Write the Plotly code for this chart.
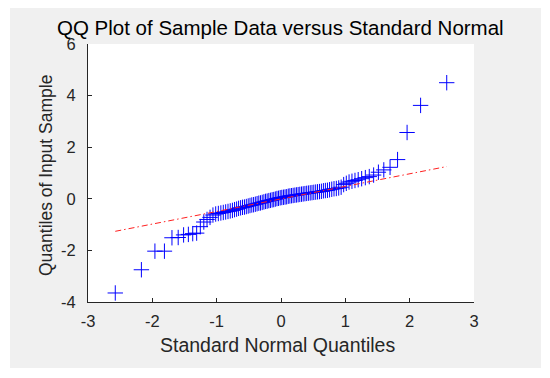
import plotly.graph_objects as go

# Theoretical standard normal quantiles (x) for 100 sample points
x_quant = [
    -2.576, -2.170, -1.960, -1.812, -1.695, -1.598, -1.514, -1.440, -1.372, -1.311,
    -1.254, -1.200, -1.150, -1.103, -1.058, -1.015, -0.974, -0.935, -0.897, -0.860,
    -0.824, -0.789, -0.755, -0.722, -0.690, -0.659, -0.628, -0.598, -0.568, -0.539,
    -0.510, -0.482, -0.454, -0.426, -0.399, -0.372, -0.345, -0.319, -0.292, -0.266,
    -0.240, -0.215, -0.189, -0.164, -0.138, -0.113, -0.088, -0.063, -0.038, -0.0125,
    0.0125, 0.038, 0.063, 0.088, 0.113, 0.138, 0.164, 0.189, 0.215, 0.240,
    0.266, 0.292, 0.319, 0.345, 0.372, 0.399, 0.426, 0.454, 0.482, 0.510,
    0.539, 0.568, 0.598, 0.628, 0.659, 0.690, 0.722, 0.755, 0.789, 0.824,
    0.860, 0.897, 0.935, 0.974, 1.015, 1.058, 1.103, 1.150, 1.200, 1.254,
    1.311, 1.372, 1.440, 1.514, 1.598, 1.695, 1.812, 1.960, 2.170, 2.576,
]

# Sorted sample values (y)
y_sample = [
    -3.65, -2.75, -2.03, -2.03, -1.51, -1.50, -1.40, -1.38, -1.35, -1.33,
    -1.08, -0.90, -0.80, -0.72, -0.63, -0.59, -0.57, -0.55, -0.53, -0.51,
    -0.49, -0.47, -0.45, -0.42, -0.40, -0.37, -0.35, -0.33, -0.32, -0.30,
    -0.28, -0.26, -0.24, -0.23, -0.21, -0.19, -0.17, -0.16, -0.14, -0.12,
    -0.10, -0.09, -0.07, -0.06, -0.04, -0.03, -0.01, 0.01, 0.02, 0.04,
    0.05, 0.06, 0.07, 0.08, 0.10, 0.11, 0.12, 0.13, 0.14, 0.15,
    0.16, 0.17, 0.18, 0.19, 0.20, 0.21, 0.22, 0.23, 0.24, 0.25,
    0.26, 0.27, 0.28, 0.29, 0.31, 0.32, 0.33, 0.35, 0.37, 0.39,
    0.40, 0.42, 0.45, 0.55, 0.60, 0.65, 0.68, 0.71, 0.74, 0.78,
    0.82, 0.86, 0.92, 1.03, 1.12, 1.22, 1.52, 2.57, 3.62, 4.50,
]

# Reference line endpoints (through the quartiles, extended to data range)
ref_x = [-2.576, 2.576]
ref_y = [-1.26, 1.25]

x_ticks = [-3, -2, -1, 0, 1, 2, 3]
y_ticks = [-4, -2, 0, 2, 4, 6]

title_text = "QQ Plot of Sample Data versus Standard Normal"
x_label = "Standard Normal Quantiles"
y_label = "Quantiles of Input Sample"

FONT = "Arial, Liberation Sans, Helvetica, sans-serif"
TXT = "#262626"

fig = go.Figure()
fig.add_trace(go.Scatter(
    x=x_quant, y=y_sample, mode="markers",
    marker=dict(symbol="cross-thin-open", size=11, color="#0000ff",
                line=dict(color="#0000ff", width=1)),
    showlegend=False, hoverinfo="x+y",
))
fig.add_trace(go.Scatter(
    x=ref_x, y=ref_y, mode="lines",
    line=dict(color="#ff2020", width=1, dash="6px,3px,1.5px,3px"),
    showlegend=False, hoverinfo="skip",
))

# The page body has an 8px default margin; the figure is sized to fit the
# 550x378 window exactly and page coordinates are converted with OFF.
OFF = 8
W, H = 550 - 2 * OFF, 378 - 2 * OFF
# plot area in page pixels: x 88..474, y 44.5..302
L, R, T, B = 88 - OFF, W - (474 - OFF), 44 - OFF, H - (302 - OFF)
pw, ph = W - L - R, H - T - B

def px_x(p):
    return (p - OFF - L) / pw

def px_y(p):
    return (H - B - (p - OFF)) / ph

fig.update_layout(
    width=W, height=H,
    margin=dict(l=L, r=R, t=T, b=B, pad=0),
    paper_bgcolor="white", plot_bgcolor="white",
    font=dict(family=FONT, color=TXT, size=16),
    shapes=[
        dict(type="rect", xref="paper", yref="paper",
             x0=px_x(10), x1=px_x(541), y0=px_y(368), y1=px_y(8),
             fillcolor="#f0f0f0", line=dict(width=0), layer="below"),
        dict(type="rect", xref="paper", yref="paper",
             x0=0, x1=1, y0=0, y1=1,
             fillcolor="white", line=dict(width=0), layer="below"),
    ],
    annotations=[
        dict(text=title_text, xref="paper", yref="paper", x=px_x(280), y=px_y(28),
             xanchor="center", yanchor="middle", showarrow=False,
             font=dict(size=20.5, color="#000000", family=FONT)),
        dict(text=x_label, xref="paper", yref="paper", x=px_x(277), y=px_y(345),
             xanchor="center", yanchor="middle", showarrow=False,
             font=dict(size=19.5, color=TXT, family=FONT)),
        dict(text=y_label, xref="paper", yref="paper", x=px_x(46), y=px_y(176),
             xanchor="center", yanchor="middle", showarrow=False, textangle=-90,
             font=dict(size=17.5, color=TXT, family=FONT)),
    ],
)

fig.update_xaxes(
    range=[-3, 3], tickvals=x_ticks, ticktext=[str(v) for v in x_ticks],
    showgrid=False, zeroline=False, showline=True, linecolor=TXT, linewidth=1,
    ticks="inside", ticklen=4, tickcolor=TXT, tickwidth=1,
    tickfont=dict(size=16.5, color=TXT, family=FONT), mirror=False,
    ticklabelstandoff=4,
)
fig.update_yaxes(
    range=[-4, 6], tickvals=y_ticks, ticktext=[str(v) for v in y_ticks],
    showgrid=False, zeroline=False, showline=True, linecolor=TXT, linewidth=1,
    ticks="inside", ticklen=4, tickcolor=TXT, tickwidth=1,
    tickfont=dict(size=16.5, color=TXT, family=FONT), mirror=False,
    ticklabelstandoff=8,
)

fig.write_html("out.html")
